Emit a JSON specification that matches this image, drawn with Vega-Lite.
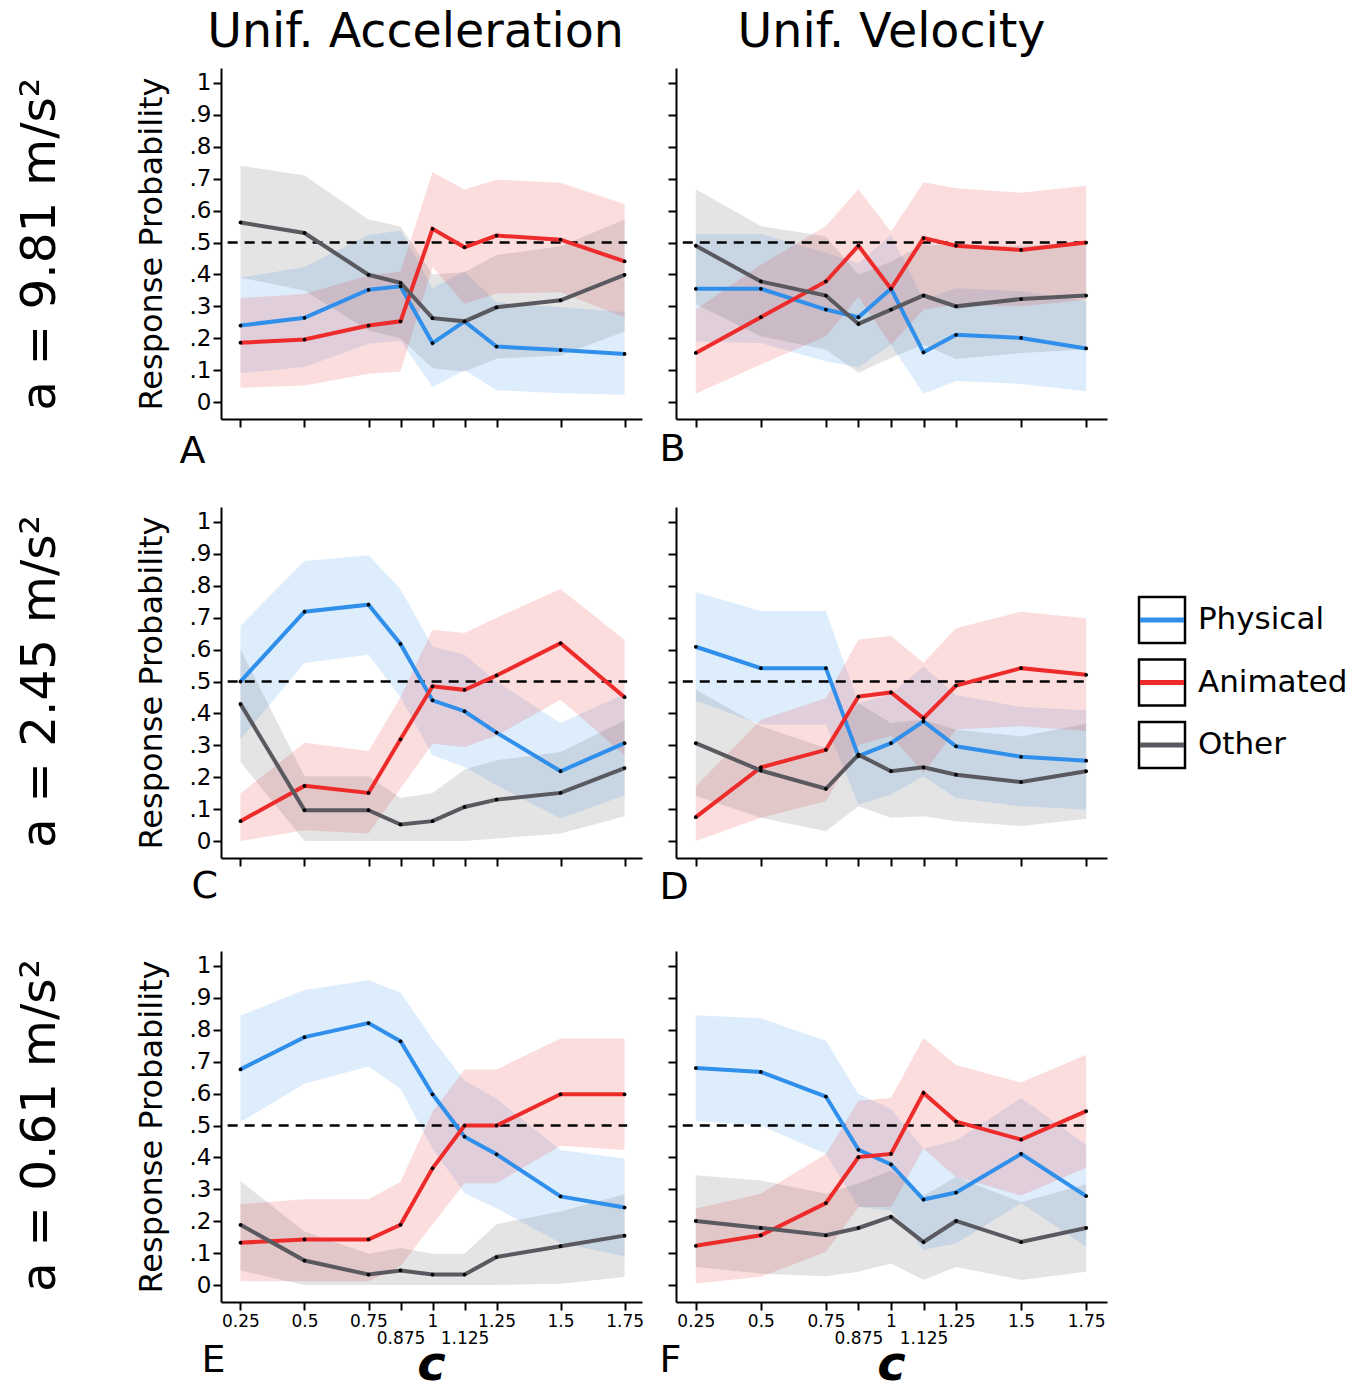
{
  "$schema": "https://vega.github.io/schema/vega-lite/v6.json",
  "background": "white",
  "padding": {"left": 15, "top": 8, "right": 0, "bottom": 0},
  "config": {
    "view": {"stroke": null},
    "font": "DejaVu Sans",
    "axis": {"domainColor": "black", "domainWidth": 2, "tickColor": "black", "tickWidth": 2, "tickSize": 8, "grid": false, "labelColor": "black", "titleColor": "black", "labelFont": "DejaVu Sans", "titleFont": "DejaVu Sans", "titleFontWeight": "normal", "labelFlush": false, "labelOverlap": false},
    "title": {"color": "black", "fontWeight": "normal", "font": "DejaVu Sans"},
    "concat": {"spacing": 17}
  },
  "datasets": {
    "d": [
      {"a":9.81,"m":"acc","c":0.25,"k":"Physical","p":0.24,"lo":0.09,"hi":0.39},
      {"a":9.81,"m":"acc","c":0.5,"k":"Physical","p":0.264,"lo":0.11,"hi":0.423},
      {"a":9.81,"m":"acc","c":0.75,"k":"Physical","p":0.352,"lo":0.183,"hi":0.524},
      {"a":9.81,"m":"acc","c":0.875,"k":"Physical","p":0.363,"lo":0.193,"hi":0.538},
      {"a":9.81,"m":"acc","c":1,"k":"Physical","p":0.185,"lo":0.047,"hi":0.357},
      {"a":9.81,"m":"acc","c":1.125,"k":"Physical","p":0.253,"lo":0.1,"hi":0.41},
      {"a":9.81,"m":"acc","c":1.25,"k":"Physical","p":0.174,"lo":0.037,"hi":0.313},
      {"a":9.81,"m":"acc","c":1.5,"k":"Physical","p":0.163,"lo":0.028,"hi":0.297},
      {"a":9.81,"m":"acc","c":1.75,"k":"Physical","p":0.151,"lo":0.023,"hi":0.282},
      {"a":9.81,"m":"acc","c":0.25,"k":"Animated","p":0.186,"lo":0.045,"hi":0.326},
      {"a":9.81,"m":"acc","c":0.5,"k":"Animated","p":0.196,"lo":0.052,"hi":0.339},
      {"a":9.81,"m":"acc","c":0.75,"k":"Animated","p":0.24,"lo":0.089,"hi":0.397},
      {"a":9.81,"m":"acc","c":0.875,"k":"Animated","p":0.253,"lo":0.096,"hi":0.409},
      {"a":9.81,"m":"acc","c":1,"k":"Animated","p":0.543,"lo":0.423,"hi":0.72},
      {"a":9.81,"m":"acc","c":1.125,"k":"Animated","p":0.485,"lo":0.308,"hi":0.666},
      {"a":9.81,"m":"acc","c":1.25,"k":"Animated","p":0.522,"lo":0.34,"hi":0.697},
      {"a":9.81,"m":"acc","c":1.5,"k":"Animated","p":0.509,"lo":0.344,"hi":0.687},
      {"a":9.81,"m":"acc","c":1.75,"k":"Animated","p":0.441,"lo":0.266,"hi":0.621},
      {"a":9.81,"m":"acc","c":0.25,"k":"Other","p":0.563,"lo":0.39,"hi":0.741},
      {"a":9.81,"m":"acc","c":0.5,"k":"Other","p":0.53,"lo":0.35,"hi":0.71},
      {"a":9.81,"m":"acc","c":0.75,"k":"Other","p":0.399,"lo":0.224,"hi":0.572},
      {"a":9.81,"m":"acc","c":0.875,"k":"Other","p":0.374,"lo":0.2,"hi":0.55},
      {"a":9.81,"m":"acc","c":1,"k":"Other","p":0.263,"lo":0.106,"hi":0.4},
      {"a":9.81,"m":"acc","c":1.125,"k":"Other","p":0.253,"lo":0.096,"hi":0.407},
      {"a":9.81,"m":"acc","c":1.25,"k":"Other","p":0.297,"lo":0.136,"hi":0.461},
      {"a":9.81,"m":"acc","c":1.5,"k":"Other","p":0.319,"lo":0.146,"hi":0.488},
      {"a":9.81,"m":"acc","c":1.75,"k":"Other","p":0.399,"lo":0.221,"hi":0.572},
      {"a":9.81,"m":"vel","c":0.25,"k":"Physical","p":0.355,"lo":0.19,"hi":0.527},
      {"a":9.81,"m":"vel","c":0.5,"k":"Physical","p":0.355,"lo":0.185,"hi":0.527},
      {"a":9.81,"m":"vel","c":0.75,"k":"Physical","p":0.29,"lo":0.128,"hi":0.467},
      {"a":9.81,"m":"vel","c":0.875,"k":"Physical","p":0.266,"lo":0.109,"hi":0.435},
      {"a":9.81,"m":"vel","c":1,"k":"Physical","p":0.355,"lo":0.18,"hi":0.524},
      {"a":9.81,"m":"vel","c":1.125,"k":"Physical","p":0.156,"lo":0.026,"hi":0.32},
      {"a":9.81,"m":"vel","c":1.25,"k":"Physical","p":0.211,"lo":0.066,"hi":0.357},
      {"a":9.81,"m":"vel","c":1.5,"k":"Physical","p":0.201,"lo":0.057,"hi":0.347},
      {"a":9.81,"m":"vel","c":1.75,"k":"Physical","p":0.168,"lo":0.034,"hi":0.316},
      {"a":9.81,"m":"vel","c":0.25,"k":"Animated","p":0.154,"lo":0.026,"hi":0.29},
      {"a":9.81,"m":"vel","c":0.5,"k":"Animated","p":0.266,"lo":0.118,"hi":0.43},
      {"a":9.81,"m":"vel","c":0.75,"k":"Animated","p":0.378,"lo":0.206,"hi":0.552},
      {"a":9.81,"m":"vel","c":0.875,"k":"Animated","p":0.49,"lo":0.33,"hi":0.667},
      {"a":9.81,"m":"vel","c":1,"k":"Animated","p":0.355,"lo":0.18,"hi":0.534},
      {"a":9.81,"m":"vel","c":1.125,"k":"Animated","p":0.514,"lo":0.29,"hi":0.689},
      {"a":9.81,"m":"vel","c":1.25,"k":"Animated","p":0.49,"lo":0.305,"hi":0.67},
      {"a":9.81,"m":"vel","c":1.5,"k":"Animated","p":0.477,"lo":0.3,"hi":0.656},
      {"a":9.81,"m":"vel","c":1.75,"k":"Animated","p":0.5,"lo":0.321,"hi":0.678},
      {"a":9.81,"m":"vel","c":0.25,"k":"Other","p":0.49,"lo":0.307,"hi":0.667},
      {"a":9.81,"m":"vel","c":0.5,"k":"Other","p":0.378,"lo":0.206,"hi":0.552},
      {"a":9.81,"m":"vel","c":0.75,"k":"Other","p":0.334,"lo":0.165,"hi":0.519},
      {"a":9.81,"m":"vel","c":0.875,"k":"Other","p":0.245,"lo":0.092,"hi":0.399},
      {"a":9.81,"m":"vel","c":1,"k":"Other","p":0.29,"lo":0.139,"hi":0.44},
      {"a":9.81,"m":"vel","c":1.125,"k":"Other","p":0.334,"lo":0.18,"hi":0.495},
      {"a":9.81,"m":"vel","c":1.25,"k":"Other","p":0.3,"lo":0.135,"hi":0.49},
      {"a":9.81,"m":"vel","c":1.5,"k":"Other","p":0.323,"lo":0.154,"hi":0.49},
      {"a":9.81,"m":"vel","c":1.75,"k":"Other","p":0.334,"lo":0.165,"hi":0.5},
      {"a":2.45,"m":"acc","c":0.25,"k":"Physical","p":0.5,"lo":0.318,"hi":0.675},
      {"a":2.45,"m":"acc","c":0.5,"k":"Physical","p":0.719,"lo":0.558,"hi":0.878},
      {"a":2.45,"m":"acc","c":0.75,"k":"Physical","p":0.741,"lo":0.584,"hi":0.896},
      {"a":2.45,"m":"acc","c":0.875,"k":"Physical","p":0.618,"lo":0.451,"hi":0.79},
      {"a":2.45,"m":"acc","c":1,"k":"Physical","p":0.441,"lo":0.269,"hi":0.61},
      {"a":2.45,"m":"acc","c":1.125,"k":"Physical","p":0.407,"lo":0.232,"hi":0.584},
      {"a":2.45,"m":"acc","c":1.25,"k":"Physical","p":0.34,"lo":0.175,"hi":0.5},
      {"a":2.45,"m":"acc","c":1.5,"k":"Physical","p":0.219,"lo":0.071,"hi":0.37},
      {"a":2.45,"m":"acc","c":1.75,"k":"Physical","p":0.307,"lo":0.144,"hi":0.461},
      {"a":2.45,"m":"acc","c":0.25,"k":"Animated","p":0.0625,"lo":0,"hi":0.149},
      {"a":2.45,"m":"acc","c":0.5,"k":"Animated","p":0.173,"lo":0.034,"hi":0.308},
      {"a":2.45,"m":"acc","c":0.75,"k":"Animated","p":0.151,"lo":0.024,"hi":0.282},
      {"a":2.45,"m":"acc","c":0.875,"k":"Animated","p":0.319,"lo":0.165,"hi":0.451},
      {"a":2.45,"m":"acc","c":1,"k":"Animated","p":0.485,"lo":0.305,"hi":0.662},
      {"a":2.45,"m":"acc","c":1.125,"k":"Animated","p":0.474,"lo":0.295,"hi":0.652},
      {"a":2.45,"m":"acc","c":1.25,"k":"Animated","p":0.519,"lo":0.331,"hi":0.7},
      {"a":2.45,"m":"acc","c":1.5,"k":"Animated","p":0.62,"lo":0.443,"hi":0.79},
      {"a":2.45,"m":"acc","c":1.75,"k":"Animated","p":0.451,"lo":0.27,"hi":0.63},
      {"a":2.45,"m":"acc","c":0.25,"k":"Other","p":0.43,"lo":0.248,"hi":0.602},
      {"a":2.45,"m":"acc","c":0.5,"k":"Other","p":0.097,"lo":0,"hi":0.203},
      {"a":2.45,"m":"acc","c":0.75,"k":"Other","p":0.097,"lo":0,"hi":0.203},
      {"a":2.45,"m":"acc","c":0.875,"k":"Other","p":0.052,"lo":0,"hi":0.135},
      {"a":2.45,"m":"acc","c":1,"k":"Other","p":0.0625,"lo":0,"hi":0.151},
      {"a":2.45,"m":"acc","c":1.125,"k":"Other","p":0.107,"lo":0,"hi":0.224},
      {"a":2.45,"m":"acc","c":1.25,"k":"Other","p":0.13,"lo":0.008,"hi":0.253},
      {"a":2.45,"m":"acc","c":1.5,"k":"Other","p":0.151,"lo":0.024,"hi":0.279},
      {"a":2.45,"m":"acc","c":1.75,"k":"Other","p":0.229,"lo":0.078,"hi":0.378},
      {"a":2.45,"m":"vel","c":0.25,"k":"Physical","p":0.609,"lo":0.44,"hi":0.781},
      {"a":2.45,"m":"vel","c":0.5,"k":"Physical","p":0.542,"lo":0.365,"hi":0.721},
      {"a":2.45,"m":"vel","c":0.75,"k":"Physical","p":0.542,"lo":0.365,"hi":0.721},
      {"a":2.45,"m":"vel","c":0.875,"k":"Physical","p":0.266,"lo":0.115,"hi":0.432},
      {"a":2.45,"m":"vel","c":1,"k":"Physical","p":0.307,"lo":0.146,"hi":0.46},
      {"a":2.45,"m":"vel","c":1.125,"k":"Physical","p":0.375,"lo":0.203,"hi":0.547},
      {"a":2.45,"m":"vel","c":1.25,"k":"Physical","p":0.297,"lo":0.135,"hi":0.458},
      {"a":2.45,"m":"vel","c":1.5,"k":"Physical","p":0.264,"lo":0.109,"hi":0.42},
      {"a":2.45,"m":"vel","c":1.75,"k":"Physical","p":0.252,"lo":0.099,"hi":0.41},
      {"a":2.45,"m":"vel","c":0.25,"k":"Animated","p":0.075,"lo":0,"hi":0.172},
      {"a":2.45,"m":"vel","c":0.5,"k":"Animated","p":0.231,"lo":0.073,"hi":0.38},
      {"a":2.45,"m":"vel","c":0.75,"k":"Animated","p":0.286,"lo":0.125,"hi":0.448},
      {"a":2.45,"m":"vel","c":0.875,"k":"Animated","p":0.453,"lo":0.3,"hi":0.632},
      {"a":2.45,"m":"vel","c":1,"k":"Animated","p":0.466,"lo":0.33,"hi":0.643},
      {"a":2.45,"m":"vel","c":1.125,"k":"Animated","p":0.385,"lo":0.214,"hi":0.559},
      {"a":2.45,"m":"vel","c":1.25,"k":"Animated","p":0.4875,"lo":0.35,"hi":0.667},
      {"a":2.45,"m":"vel","c":1.5,"k":"Animated","p":0.542,"lo":0.36,"hi":0.719},
      {"a":2.45,"m":"vel","c":1.75,"k":"Animated","p":0.521,"lo":0.345,"hi":0.698},
      {"a":2.45,"m":"vel","c":0.25,"k":"Other","p":0.307,"lo":0.141,"hi":0.474},
      {"a":2.45,"m":"vel","c":0.5,"k":"Other","p":0.221,"lo":0.073,"hi":0.36},
      {"a":2.45,"m":"vel","c":0.75,"k":"Other","p":0.164,"lo":0.031,"hi":0.292},
      {"a":2.45,"m":"vel","c":0.875,"k":"Other","p":0.271,"lo":0.109,"hi":0.432},
      {"a":2.45,"m":"vel","c":1,"k":"Other","p":0.219,"lo":0.073,"hi":0.37},
      {"a":2.45,"m":"vel","c":1.125,"k":"Other","p":0.231,"lo":0.078,"hi":0.38},
      {"a":2.45,"m":"vel","c":1.25,"k":"Other","p":0.208,"lo":0.0625,"hi":0.349},
      {"a":2.45,"m":"vel","c":1.5,"k":"Other","p":0.185,"lo":0.047,"hi":0.328},
      {"a":2.45,"m":"vel","c":1.75,"k":"Other","p":0.219,"lo":0.07,"hi":0.368},
      {"a":0.61,"m":"acc","c":0.25,"k":"Physical","p":0.676,"lo":0.511,"hi":0.844},
      {"a":0.61,"m":"acc","c":0.5,"k":"Physical","p":0.777,"lo":0.631,"hi":0.925},
      {"a":0.61,"m":"acc","c":0.75,"k":"Physical","p":0.821,"lo":0.685,"hi":0.955},
      {"a":0.61,"m":"acc","c":0.875,"k":"Physical","p":0.764,"lo":0.615,"hi":0.917},
      {"a":0.61,"m":"acc","c":1,"k":"Physical","p":0.598,"lo":0.428,"hi":0.771},
      {"a":0.61,"m":"acc","c":1.125,"k":"Physical","p":0.465,"lo":0.288,"hi":0.641},
      {"a":0.61,"m":"acc","c":1.25,"k":"Physical","p":0.41,"lo":0.241,"hi":0.584},
      {"a":0.61,"m":"acc","c":1.5,"k":"Physical","p":0.278,"lo":0.132,"hi":0.423},
      {"a":0.61,"m":"acc","c":1.75,"k":"Physical","p":0.243,"lo":0.09,"hi":0.397},
      {"a":0.61,"m":"acc","c":0.25,"k":"Animated","p":0.133,"lo":0.012,"hi":0.254},
      {"a":0.61,"m":"acc","c":0.5,"k":"Animated","p":0.143,"lo":0.012,"hi":0.269},
      {"a":0.61,"m":"acc","c":0.75,"k":"Animated","p":0.143,"lo":0.012,"hi":0.269},
      {"a":0.61,"m":"acc","c":0.875,"k":"Animated","p":0.189,"lo":0.06,"hi":0.324},
      {"a":0.61,"m":"acc","c":1,"k":"Animated","p":0.366,"lo":0.19,"hi":0.543},
      {"a":0.61,"m":"acc","c":1.125,"k":"Animated","p":0.5,"lo":0.319,"hi":0.676},
      {"a":0.61,"m":"acc","c":1.25,"k":"Animated","p":0.5,"lo":0.319,"hi":0.676},
      {"a":0.61,"m":"acc","c":1.5,"k":"Animated","p":0.598,"lo":0.437,"hi":0.773},
      {"a":0.61,"m":"acc","c":1.75,"k":"Animated","p":0.598,"lo":0.423,"hi":0.773},
      {"a":0.61,"m":"acc","c":0.25,"k":"Other","p":0.189,"lo":0.046,"hi":0.326},
      {"a":0.61,"m":"acc","c":0.5,"k":"Other","p":0.077,"lo":0,"hi":0.168},
      {"a":0.61,"m":"acc","c":0.75,"k":"Other","p":0.033,"lo":0,"hi":0.098},
      {"a":0.61,"m":"acc","c":0.875,"k":"Other","p":0.046,"lo":0,"hi":0.116},
      {"a":0.61,"m":"acc","c":1,"k":"Other","p":0.033,"lo":0,"hi":0.098},
      {"a":0.61,"m":"acc","c":1.125,"k":"Other","p":0.033,"lo":0,"hi":0.098},
      {"a":0.61,"m":"acc","c":1.25,"k":"Other","p":0.088,"lo":0,"hi":0.191},
      {"a":0.61,"m":"acc","c":1.5,"k":"Other","p":0.122,"lo":0.004,"hi":0.231},
      {"a":0.61,"m":"acc","c":1.75,"k":"Other","p":0.155,"lo":0.025,"hi":0.285},
      {"a":0.61,"m":"vel","c":0.25,"k":"Physical","p":0.68,"lo":0.514,"hi":0.846},
      {"a":0.61,"m":"vel","c":0.5,"k":"Physical","p":0.668,"lo":0.5,"hi":0.836},
      {"a":0.61,"m":"vel","c":0.75,"k":"Physical","p":0.591,"lo":0.411,"hi":0.766},
      {"a":0.61,"m":"vel","c":0.875,"k":"Physical","p":0.424,"lo":0.245,"hi":0.599},
      {"a":0.61,"m":"vel","c":1,"k":"Physical","p":0.378,"lo":0.234,"hi":0.552},
      {"a":0.61,"m":"vel","c":1.125,"k":"Physical","p":0.268,"lo":0.111,"hi":0.427},
      {"a":0.61,"m":"vel","c":1.25,"k":"Physical","p":0.29,"lo":0.13,"hi":0.453},
      {"a":0.61,"m":"vel","c":1.5,"k":"Physical","p":0.411,"lo":0.257,"hi":0.586},
      {"a":0.61,"m":"vel","c":1.75,"k":"Physical","p":0.279,"lo":0.12,"hi":0.44},
      {"a":0.61,"m":"vel","c":0.25,"k":"Animated","p":0.123,"lo":0.005,"hi":0.24},
      {"a":0.61,"m":"vel","c":0.5,"k":"Animated","p":0.156,"lo":0.026,"hi":0.286},
      {"a":0.61,"m":"vel","c":0.75,"k":"Animated","p":0.257,"lo":0.104,"hi":0.411},
      {"a":0.61,"m":"vel","c":0.875,"k":"Animated","p":0.401,"lo":0.245,"hi":0.578},
      {"a":0.61,"m":"vel","c":1,"k":"Animated","p":0.411,"lo":0.245,"hi":0.586},
      {"a":0.61,"m":"vel","c":1.125,"k":"Animated","p":0.602,"lo":0.427,"hi":0.774},
      {"a":0.61,"m":"vel","c":1.25,"k":"Animated","p":0.5125,"lo":0.339,"hi":0.69},
      {"a":0.61,"m":"vel","c":1.5,"k":"Animated","p":0.456,"lo":0.281,"hi":0.635},
      {"a":0.61,"m":"vel","c":1.75,"k":"Animated","p":0.545,"lo":0.368,"hi":0.722},
      {"a":0.61,"m":"vel","c":0.25,"k":"Other","p":0.201,"lo":0.057,"hi":0.344},
      {"a":0.61,"m":"vel","c":0.5,"k":"Other","p":0.179,"lo":0.036,"hi":0.328},
      {"a":0.61,"m":"vel","c":0.75,"k":"Other","p":0.156,"lo":0.028,"hi":0.286},
      {"a":0.61,"m":"vel","c":0.875,"k":"Other","p":0.179,"lo":0.042,"hi":0.318},
      {"a":0.61,"m":"vel","c":1,"k":"Other","p":0.214,"lo":0.068,"hi":0.359},
      {"a":0.61,"m":"vel","c":1.125,"k":"Other","p":0.135,"lo":0.016,"hi":0.28},
      {"a":0.61,"m":"vel","c":1.25,"k":"Other","p":0.201,"lo":0.057,"hi":0.339},
      {"a":0.61,"m":"vel","c":1.5,"k":"Other","p":0.135,"lo":0.016,"hi":0.26},
      {"a":0.61,"m":"vel","c":1.75,"k":"Other","p":0.179,"lo":0.042,"hi":0.316}
    ],
    "legend": [{"k": "Physical", "i": 0}, {"k": "Animated", "i": 1}, {"k": "Other", "i": 2}],
    "half": [{"c": 0.2, "v": 0.5}, {"c": 1.76, "v": 0.5}]
  },
  "spacing": 37,
  "vconcat": [
    {
      "title": {"text": "a = 9.81 m/s²", "orient": "left", "fontSize": 48.5, "offset": 70, "anchor": "middle", "dx": -5},
      "hconcat": [
        {
          "width": 421, "height": 351,
          "title": {"text": "Unif. Acceleration", "orient": "top", "fontSize": 47.5, "baseline": "alphabetic", "offset": -26, "dx": -16},
          "encoding": {
            "x": {"field": "c", "type": "quantitative", "scale": {"domain": [0.174, 1.818], "nice": false, "zero": false}, "axis": {"values": [0.25, 0.5, 0.75, 0.875, 1, 1.125, 1.25, 1.5, 1.75], "labels": false, "title": "A", "titleX": -42, "titleY": 43, "titleAlign": "left", "titleBaseline": "alphabetic", "titleFontSize": 38, "titleAngle": 0}},
            "y": {"field": "p", "type": "quantitative", "scale": {"domain": [-0.053, 1.047], "nice": false, "zero": false}, "axis": {"values": [0, 0.1, 0.2, 0.3, 0.4, 0.5, 0.6, 0.7, 0.8, 0.9, 1], "labelExpr": "datum.value == 0 ? '0' : datum.value == 1 ? '1' : replace(format(datum.value, '.1f'), '0.', '.')", "labelFontSize": 23, "labelPadding": 2, "title": "Response Probability", "titleFontSize": 32, "titlePadding": 21}},
            "color": {"field": "k", "type": "nominal", "scale": {"domain": ["Physical", "Animated", "Other"], "range": ["#2f8fea", "#ee2b2b", "#59595f"]}, "legend": null}
          },
          "layer": [
            {"data": {"name": "d"}, "transform": [{"filter": "datum.a == 9.81 && datum.m == 'acc'"}], "mark": {"type": "area", "opacity": 0.16}, "encoding": {"y": {"field": "lo", "type": "quantitative", "scale": {"domain": [-0.053, 1.047], "nice": false, "zero": false}, "axis": {"values": [0, 0.1, 0.2, 0.3, 0.4, 0.5, 0.6, 0.7, 0.8, 0.9, 1], "labelExpr": "datum.value == 0 ? '0' : datum.value == 1 ? '1' : replace(format(datum.value, '.1f'), '0.', '.')", "labelFontSize": 23, "labelPadding": 2, "title": "Response Probability", "titleFontSize": 32, "titlePadding": 21}}, "y2": {"field": "hi"}}},
            {"data": {"name": "half"}, "mark": {"type": "line", "strokeWidth": 2.5, "strokeDash": [10, 7]}, "encoding": {"x": {"field": "c", "type": "quantitative"}, "y": {"field": "v", "type": "quantitative"}, "color": {"value": "black"}}},
            {"data": {"name": "d"}, "transform": [{"filter": "datum.a == 9.81 && datum.m == 'acc'"}], "mark": {"type": "line", "strokeWidth": 4}},
            {"data": {"name": "d"}, "transform": [{"filter": "datum.a == 9.81 && datum.m == 'acc'"}], "mark": {"type": "point", "filled": true, "size": 14, "opacity": 1}, "encoding": {"color": {"value": "black"}}}
          ]
        },
        {
          "width": 431, "height": 351,
          "title": {"text": "Unif. Velocity", "orient": "top", "fontSize": 47.5, "baseline": "alphabetic", "offset": -26},
          "encoding": {
            "x": {"field": "c", "type": "quantitative", "scale": {"domain": [0.174, 1.83], "nice": false, "zero": false}, "axis": {"values": [0.25, 0.5, 0.75, 0.875, 1, 1.125, 1.25, 1.5, 1.75], "labels": false, "title": "B", "titleX": -17, "titleY": 41, "titleAlign": "left", "titleBaseline": "alphabetic", "titleFontSize": 38, "titleAngle": 0}},
            "y": {"field": "p", "type": "quantitative", "scale": {"domain": [-0.053, 1.047], "nice": false, "zero": false}, "axis": {"values": [0, 0.1, 0.2, 0.3, 0.4, 0.5, 0.6, 0.7, 0.8, 0.9, 1], "labels": false, "title": null}},
            "color": {"field": "k", "type": "nominal", "scale": {"domain": ["Physical", "Animated", "Other"], "range": ["#2f8fea", "#ee2b2b", "#59595f"]}, "legend": null}
          },
          "layer": [
            {"data": {"name": "d"}, "transform": [{"filter": "datum.a == 9.81 && datum.m == 'vel'"}], "mark": {"type": "area", "opacity": 0.16}, "encoding": {"y": {"field": "lo", "type": "quantitative", "scale": {"domain": [-0.053, 1.047], "nice": false, "zero": false}, "axis": {"values": [0, 0.1, 0.2, 0.3, 0.4, 0.5, 0.6, 0.7, 0.8, 0.9, 1], "labels": false, "title": null}}, "y2": {"field": "hi"}}},
            {"data": {"name": "half"}, "mark": {"type": "line", "strokeWidth": 2.5, "strokeDash": [10, 7]}, "encoding": {"x": {"field": "c", "type": "quantitative"}, "y": {"field": "v", "type": "quantitative"}, "color": {"value": "black"}}},
            {"data": {"name": "d"}, "transform": [{"filter": "datum.a == 9.81 && datum.m == 'vel'"}], "mark": {"type": "line", "strokeWidth": 4}},
            {"data": {"name": "d"}, "transform": [{"filter": "datum.a == 9.81 && datum.m == 'vel'"}], "mark": {"type": "point", "filled": true, "size": 14, "opacity": 1}, "encoding": {"color": {"value": "black"}}}
          ]
        }
      ]
    },
    {
      "spacing": 45,
      "vconcat": [
        {
          "title": {"text": "a = 2.45 m/s²", "orient": "left", "fontSize": 48.5, "offset": 70, "anchor": "middle", "dx": 25},
          "hconcat": [
            {
              "width": 421, "height": 351,
              "encoding": {
                "x": {"field": "c", "type": "quantitative", "scale": {"domain": [0.174, 1.818], "nice": false, "zero": false}, "axis": {"values": [0.25, 0.5, 0.75, 0.875, 1, 1.125, 1.25, 1.5, 1.75], "labels": false, "title": "C", "titleX": -30, "titleY": 39, "titleAlign": "left", "titleBaseline": "alphabetic", "titleFontSize": 38, "titleAngle": 0}},
                "y": {"field": "p", "type": "quantitative", "scale": {"domain": [-0.053, 1.047], "nice": false, "zero": false}, "axis": {"values": [0, 0.1, 0.2, 0.3, 0.4, 0.5, 0.6, 0.7, 0.8, 0.9, 1], "labelExpr": "datum.value == 0 ? '0' : datum.value == 1 ? '1' : replace(format(datum.value, '.1f'), '0.', '.')", "labelFontSize": 23, "labelPadding": 2, "title": "Response Probability", "titleFontSize": 32, "titlePadding": 21}},
                "color": {"field": "k", "type": "nominal", "scale": {"domain": ["Physical", "Animated", "Other"], "range": ["#2f8fea", "#ee2b2b", "#59595f"]}, "legend": null}
              },
              "layer": [
                {"data": {"name": "d"}, "transform": [{"filter": "datum.a == 2.45 && datum.m == 'acc'"}], "mark": {"type": "area", "opacity": 0.16}, "encoding": {"y": {"field": "lo", "type": "quantitative", "scale": {"domain": [-0.053, 1.047], "nice": false, "zero": false}, "axis": {"values": [0, 0.1, 0.2, 0.3, 0.4, 0.5, 0.6, 0.7, 0.8, 0.9, 1], "labelExpr": "datum.value == 0 ? '0' : datum.value == 1 ? '1' : replace(format(datum.value, '.1f'), '0.', '.')", "labelFontSize": 23, "labelPadding": 2, "title": "Response Probability", "titleFontSize": 32, "titlePadding": 21}}, "y2": {"field": "hi"}}},
                {"data": {"name": "half"}, "mark": {"type": "line", "strokeWidth": 2.5, "strokeDash": [10, 7]}, "encoding": {"x": {"field": "c", "type": "quantitative"}, "y": {"field": "v", "type": "quantitative"}, "color": {"value": "black"}}},
                {"data": {"name": "d"}, "transform": [{"filter": "datum.a == 2.45 && datum.m == 'acc'"}], "mark": {"type": "line", "strokeWidth": 4}},
                {"data": {"name": "d"}, "transform": [{"filter": "datum.a == 2.45 && datum.m == 'acc'"}], "mark": {"type": "point", "filled": true, "size": 14, "opacity": 1}, "encoding": {"color": {"value": "black"}}}
              ]
            },
            {
              "width": 431, "height": 351,
              "encoding": {
                "x": {"field": "c", "type": "quantitative", "scale": {"domain": [0.174, 1.83], "nice": false, "zero": false}, "axis": {"values": [0.25, 0.5, 0.75, 0.875, 1, 1.125, 1.25, 1.5, 1.75], "labels": false, "title": "D", "titleX": -17, "titleY": 40, "titleAlign": "left", "titleBaseline": "alphabetic", "titleFontSize": 38, "titleAngle": 0}},
                "y": {"field": "p", "type": "quantitative", "scale": {"domain": [-0.053, 1.047], "nice": false, "zero": false}, "axis": {"values": [0, 0.1, 0.2, 0.3, 0.4, 0.5, 0.6, 0.7, 0.8, 0.9, 1], "labels": false, "title": null}},
                "color": {"field": "k", "type": "nominal", "scale": {"domain": ["Physical", "Animated", "Other"], "range": ["#2f8fea", "#ee2b2b", "#59595f"]}, "legend": null}
              },
              "layer": [
                {"data": {"name": "d"}, "transform": [{"filter": "datum.a == 2.45 && datum.m == 'vel'"}], "mark": {"type": "area", "opacity": 0.16}, "encoding": {"y": {"field": "lo", "type": "quantitative", "scale": {"domain": [-0.053, 1.047], "nice": false, "zero": false}, "axis": {"values": [0, 0.1, 0.2, 0.3, 0.4, 0.5, 0.6, 0.7, 0.8, 0.9, 1], "labels": false, "title": null}}, "y2": {"field": "hi"}}},
                {"data": {"name": "half"}, "mark": {"type": "line", "strokeWidth": 2.5, "strokeDash": [10, 7]}, "encoding": {"x": {"field": "c", "type": "quantitative"}, "y": {"field": "v", "type": "quantitative"}, "color": {"value": "black"}}},
                {"data": {"name": "d"}, "transform": [{"filter": "datum.a == 2.45 && datum.m == 'vel'"}], "mark": {"type": "line", "strokeWidth": 4}},
                {"data": {"name": "d"}, "transform": [{"filter": "datum.a == 2.45 && datum.m == 'vel'"}], "mark": {"type": "point", "filled": true, "size": 14, "opacity": 1}, "encoding": {"color": {"value": "black"}}}
              ]
            },
            {
              "width": 210, "height": 351,
              "data": {"name": "legend"},
              "encoding": {
                "y": {"field": "i", "type": "quantitative", "scale": {"domain": [-1.808, 3.808], "reverse": true, "nice": false, "zero": false}, "axis": null}
              },
              "layer": [
                {"mark": {"type": "square", "size": 2116, "filled": true, "fill": "white", "stroke": "black", "strokeWidth": 2.5, "opacity": 1}, "encoding": {"x": {"datum": 1.81, "type": "quantitative", "scale": {"domain": [0, 10]}, "axis": null}}},
                {"mark": {"type": "tick", "orient": "horizontal", "size": 44, "thickness": 5, "opacity": 1}, "encoding": {"x": {"datum": 1.81, "type": "quantitative", "axis": null}, "color": {"field": "k", "type": "nominal", "scale": {"domain": ["Physical", "Animated", "Other"], "range": ["#2f8fea", "#ee2b2b", "#6a626a"]}, "legend": null}}},
                {"mark": {"type": "text", "align": "left", "baseline": "middle", "fontSize": 31, "color": "black"}, "encoding": {"x": {"datum": 3.52, "type": "quantitative", "axis": null}, "text": {"field": "k"}}}
              ]
            }
          ]
        },
        {
          "title": {"text": "a = 0.61 m/s²", "orient": "left", "fontSize": 48.5, "offset": 70, "anchor": "middle", "dx": 45},
          "spacing": 15,
          "hconcat": [
            {
              "width": 421, "height": 351,
              "title": {"text": "c", "orient": "bottom", "fontSize": 48, "fontStyle": "italic", "fontWeight": "bold", "baseline": "alphabetic", "offset": 1},
              "encoding": {
                "x": {"field": "c", "type": "quantitative", "scale": {"domain": [0.174, 1.818], "nice": false, "zero": false}, "axis": {"values": [0.25, 0.5, 0.75, 0.875, 1, 1.125, 1.25, 1.5, 1.75], "labelExpr": "toString(datum.value)", "labelFontSize": 17, "labelOverlap": false, "labelPadding": {"condition": {"test": "datum.value == 0.875 || datum.value == 1.125", "value": 20}, "value": 3}, "title": "E", "titleX": -20, "titleY": 69, "titleAlign": "left", "titleBaseline": "alphabetic", "titleFontSize": 38, "titleAngle": 0}},
                "y": {"field": "p", "type": "quantitative", "scale": {"domain": [-0.053, 1.047], "nice": false, "zero": false}, "axis": {"values": [0, 0.1, 0.2, 0.3, 0.4, 0.5, 0.6, 0.7, 0.8, 0.9, 1], "labelExpr": "datum.value == 0 ? '0' : datum.value == 1 ? '1' : replace(format(datum.value, '.1f'), '0.', '.')", "labelFontSize": 23, "labelPadding": 2, "title": "Response Probability", "titleFontSize": 32, "titlePadding": 21}},
                "color": {"field": "k", "type": "nominal", "scale": {"domain": ["Physical", "Animated", "Other"], "range": ["#2f8fea", "#ee2b2b", "#59595f"]}, "legend": null}
              },
              "layer": [
                {"data": {"name": "d"}, "transform": [{"filter": "datum.a == 0.61 && datum.m == 'acc'"}], "mark": {"type": "area", "opacity": 0.16}, "encoding": {"y": {"field": "lo", "type": "quantitative", "scale": {"domain": [-0.053, 1.047], "nice": false, "zero": false}, "axis": {"values": [0, 0.1, 0.2, 0.3, 0.4, 0.5, 0.6, 0.7, 0.8, 0.9, 1], "labelExpr": "datum.value == 0 ? '0' : datum.value == 1 ? '1' : replace(format(datum.value, '.1f'), '0.', '.')", "labelFontSize": 23, "labelPadding": 2, "title": "Response Probability", "titleFontSize": 32, "titlePadding": 21}}, "y2": {"field": "hi"}}},
                {"data": {"name": "half"}, "mark": {"type": "line", "strokeWidth": 2.5, "strokeDash": [10, 7]}, "encoding": {"x": {"field": "c", "type": "quantitative"}, "y": {"field": "v", "type": "quantitative"}, "color": {"value": "black"}}},
                {"data": {"name": "d"}, "transform": [{"filter": "datum.a == 0.61 && datum.m == 'acc'"}], "mark": {"type": "line", "strokeWidth": 4}},
                {"data": {"name": "d"}, "transform": [{"filter": "datum.a == 0.61 && datum.m == 'acc'"}], "mark": {"type": "point", "filled": true, "size": 14, "opacity": 1}, "encoding": {"color": {"value": "black"}}}
              ]
            },
            {
              "width": 431, "height": 351,
              "title": {"text": "c", "orient": "bottom", "fontSize": 48, "fontStyle": "italic", "fontWeight": "bold", "baseline": "alphabetic", "offset": 1},
              "encoding": {
                "x": {"field": "c", "type": "quantitative", "scale": {"domain": [0.174, 1.83], "nice": false, "zero": false}, "axis": {"values": [0.25, 0.5, 0.75, 0.875, 1, 1.125, 1.25, 1.5, 1.75], "labelExpr": "toString(datum.value)", "labelFontSize": 17, "labelOverlap": false, "labelPadding": {"condition": {"test": "datum.value == 0.875 || datum.value == 1.125", "value": 20}, "value": 3}, "title": "F", "titleX": -17, "titleY": 69, "titleAlign": "left", "titleBaseline": "alphabetic", "titleFontSize": 38, "titleAngle": 0}},
                "y": {"field": "p", "type": "quantitative", "scale": {"domain": [-0.053, 1.047], "nice": false, "zero": false}, "axis": {"values": [0, 0.1, 0.2, 0.3, 0.4, 0.5, 0.6, 0.7, 0.8, 0.9, 1], "labels": false, "title": null}},
                "color": {"field": "k", "type": "nominal", "scale": {"domain": ["Physical", "Animated", "Other"], "range": ["#2f8fea", "#ee2b2b", "#59595f"]}, "legend": null}
              },
              "layer": [
                {"data": {"name": "d"}, "transform": [{"filter": "datum.a == 0.61 && datum.m == 'vel'"}], "mark": {"type": "area", "opacity": 0.16}, "encoding": {"y": {"field": "lo", "type": "quantitative", "scale": {"domain": [-0.053, 1.047], "nice": false, "zero": false}, "axis": {"values": [0, 0.1, 0.2, 0.3, 0.4, 0.5, 0.6, 0.7, 0.8, 0.9, 1], "labels": false, "title": null}}, "y2": {"field": "hi"}}},
                {"data": {"name": "half"}, "mark": {"type": "line", "strokeWidth": 2.5, "strokeDash": [10, 7]}, "encoding": {"x": {"field": "c", "type": "quantitative"}, "y": {"field": "v", "type": "quantitative"}, "color": {"value": "black"}}},
                {"data": {"name": "d"}, "transform": [{"filter": "datum.a == 0.61 && datum.m == 'vel'"}], "mark": {"type": "line", "strokeWidth": 4}},
                {"data": {"name": "d"}, "transform": [{"filter": "datum.a == 0.61 && datum.m == 'vel'"}], "mark": {"type": "point", "filled": true, "size": 14, "opacity": 1}, "encoding": {"color": {"value": "black"}}}
              ]
            }
          ]
        }
      ]
    }
  ]
}
